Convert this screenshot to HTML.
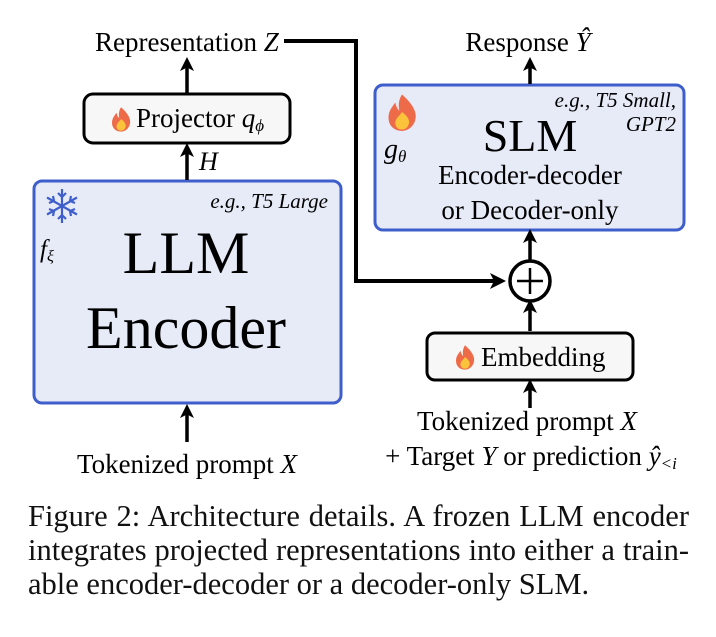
<!DOCTYPE html>
<html><head><meta charset="utf-8"><style>
body{margin:0;background:#fff;width:716px;height:637px;overflow:hidden}
svg text{font-family:"Liberation Serif","Times New Roman",serif;fill:#000}
.cap{position:absolute;left:28px;top:499px;width:661px;font-family:"Liberation Serif","Times New Roman",serif;font-size:30.5px;line-height:34px;color:#111}
.cap div{text-align:justify;text-align-last:justify;white-space:nowrap}
.cap div.l{text-align-last:left}
</style></head><body>
<svg width="716" height="637" style="position:absolute;left:0;top:0">
<defs>
<marker id="ah" markerWidth="4" markerHeight="4" refX="2" refY="2" orient="auto" markerUnits="strokeWidth"><path d="M0,0 L4,2 L0,4 L1,2 z" fill="#000"/></marker>
<g id="fire"><path d="M0,-13 C8,-6 11,0 10,5 C9,11 4,14 0,14 C-5,14 -10,11 -10,4 C-10,-1 -7,-4 -5,-7 C-4,-3 -3,-2 -2,-1 C-3,-6 -2,-10 0,-13z" fill="#ee6b4a"/><path d="M0,0 C4,3 6,6 5,9 C4,12 2,13 0,13 C-3,13 -5,11 -5,8 C-5,5 -2,3 0,0z" fill="#fbc23c"/></g>
</defs>
<!-- LLM box -->
<rect x="34" y="181" width="307" height="222" rx="8" fill="#e7ebf8" stroke="#3e5fcb" stroke-width="3"/>
<text x="328" y="208" font-size="21" font-style="italic" text-anchor="end">e.g., T5 Large</text>
<text x="186" y="273" font-size="60" text-anchor="middle">LLM</text>
<text x="186" y="348" font-size="60" text-anchor="middle">Encoder</text>
<g stroke="#3e5fcb" stroke-width="2.2" fill="none" transform="translate(62,206)">
<path d="M0,-17 V17 M-15,-8.5 L15,8.5 M-15,8.5 L15,-8.5"/>
<path d="M-4,-13 L0,-9 L4,-13 M-4,13 L0,9 L4,13 M-13,-3 L-8,-5 L-9,-10 M13,3 L8,5 L9,10 M-13,3 L-8,5 L-9,10 M13,-3 L8,-5 L9,-10"/>
</g>
<text x="40" y="257" font-size="25" font-style="italic">f<tspan font-size="16" dy="4">ξ</tspan></text>
<!-- projector -->
<rect x="84" y="94" width="206" height="49" rx="9" fill="#f7f7f7" stroke="#000" stroke-width="3"/>
<use href="#fire" transform="translate(121,119) scale(0.9)"/>
<text x="136" y="127" font-size="27">Projector <tspan font-style="italic">q</tspan><tspan font-size="17" font-style="italic" dy="4">ϕ</tspan></text>
<line x1="187" y1="180" x2="187" y2="150" stroke="#000" stroke-width="3.5" marker-end="url(#ah)"/>
<text x="199" y="170" font-size="26" font-style="italic">H</text>
<line x1="187" y1="93" x2="187" y2="64" stroke="#000" stroke-width="3.5" marker-end="url(#ah)"/>
<text x="95" y="51" font-size="27">Representation <tspan font-style="italic">Z</tspan></text>
<line x1="187" y1="442" x2="187" y2="411" stroke="#000" stroke-width="3.5" marker-end="url(#ah)"/>
<text x="187" y="473" font-size="27" text-anchor="middle">Tokenized prompt <tspan font-style="italic">X</tspan></text>
<!-- connector -->
<polyline points="284,41 356,41 356,281 498,281" fill="none" stroke="#000" stroke-width="4" marker-end="url(#ah)"/>
<!-- SLM -->
<rect x="375" y="85" width="309" height="145" rx="8" fill="#e7ebf8" stroke="#3e5fcb" stroke-width="3"/>
<use href="#fire" transform="translate(402,112) scale(1.35)"/>
<text x="384" y="158" font-size="28" font-style="italic">g<tspan font-size="17" dy="4">θ</tspan></text>
<text x="676" y="107" font-size="21" font-style="italic" text-anchor="end">e.g., T5 Small,</text>
<text x="676" y="131" font-size="21" font-style="italic" text-anchor="end">GPT2</text>
<text x="530" y="151" font-size="46" text-anchor="middle">SLM</text>
<text x="530" y="184" font-size="27" text-anchor="middle">Encoder-decoder</text>
<text x="530" y="219" font-size="27" text-anchor="middle">or Decoder-only</text>
<line x1="530" y1="84" x2="530" y2="64" stroke="#000" stroke-width="3.5" marker-end="url(#ah)"/>
<text x="528" y="51" font-size="27" text-anchor="middle">Response <tspan font-style="italic">Ŷ</tspan></text>
<circle cx="530" cy="281" r="20" fill="#fff" stroke="#000" stroke-width="3.5"/>
<path d="M530,268 V294 M517,281 H543" stroke="#000" stroke-width="2.5"/>
<line x1="530" y1="260" x2="530" y2="236" stroke="#000" stroke-width="3.5" marker-end="url(#ah)"/>
<line x1="530" y1="331" x2="530" y2="306" stroke="#000" stroke-width="3.5" marker-end="url(#ah)"/>
<rect x="427" y="333" width="206" height="47" rx="8" fill="#f7f7f7" stroke="#000" stroke-width="3"/>
<use href="#fire" transform="translate(465,357) scale(0.9)"/>
<text x="481" y="366" font-size="27">Embedding</text>
<line x1="530" y1="408" x2="530" y2="386" stroke="#000" stroke-width="3.5" marker-end="url(#ah)"/>
<text x="527" y="430" font-size="27" text-anchor="middle">Tokenized prompt <tspan font-style="italic">X</tspan></text>
<text x="531" y="465" font-size="27" text-anchor="middle">+ Target <tspan font-style="italic">Y</tspan> or prediction <tspan font-style="italic">ŷ</tspan><tspan font-size="17" font-style="italic" dy="4">&lt;i</tspan></text>
</svg>
<div class="cap">
<div>Figure 2: Architecture details. A frozen LLM encoder</div>
<div>integrates projected representations into either a train-</div>
<div class="l">able encoder-decoder or a decoder-only SLM.</div>
</div>
</body></html>
